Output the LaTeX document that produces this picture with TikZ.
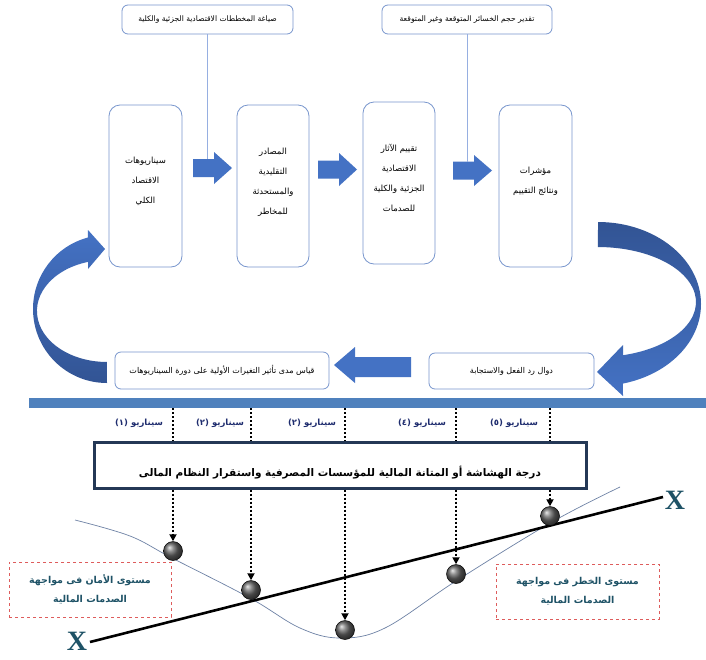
\documentclass[tikz,border=0pt]{standalone}
\usepackage{fontspec}
\usetikzlibrary{arrows.meta}
\TeXXeTstate=1
\newfontfamily\arabicfont[Script=Arabic]{DejaVu Sans}
\newfontfamily\xfont{Liberation Serif}
\newcommand\artx[1]{\beginR#1\endR}
\definecolor{boxline}{RGB}{120,150,205}
\definecolor{topline}{RGB}{150,175,225}
\definecolor{arrblue}{RGB}{68,114,196}
\definecolor{darkarr}{RGB}{50,84,148}
\definecolor{barblue}{RGB}{79,129,189}
\definecolor{bigline}{RGB}{36,56,86}
\definecolor{scencol}{RGB}{30,44,110}
\definecolor{tealtx}{RGB}{30,82,102}
\definecolor{redash}{RGB}{222,92,92}
\definecolor{curvecol}{RGB}{110,130,165}
\tikzset{
  rbox/.style={draw=boxline, line width=0.8pt, rounded corners=11pt, inner sep=0pt},
  topbox/.style={draw=boxline, line width=0.8pt, rounded corners=6pt, inner sep=0pt,
     minimum height=29, font=\arabicfont\fontsize{7.6}{9}\selectfont},
  boxtxt/.style={align=center, inner sep=0pt, font=\arabicfont\fontsize{8.5}{20}\selectfont},
  rowtxt/.style={font=\arabicfont\fontsize{8}{9}\selectfont},
  blockfill/.style={fill=arrblue},
  feedline/.style={draw=topline, line width=0.8pt},
  scenlbl/.style={font=\arabicfont\bfseries\fontsize{8.5}{10}\selectfont, text=scencol, inner sep=0pt},
  dotln/.style={draw=black, line width=2pt, dash pattern=on 2pt off 2pt},
  dotarr/.style={dotln, -{Triangle[length=7pt,width=7pt]}},
  ballnode/.style={circle, minimum size=19, inner sep=0pt, draw=black, line width=0.5pt,
     shading=ball, ball color=black!60},
  dashbox/.style={draw=redash, dashed, line width=0.8pt, inner sep=0pt, align=center,
     text=tealtx, font=\arabicfont\bfseries\fontsize{9.5}{19}\selectfont},
  xlbl/.style={text=tealtx, font=\xfont\bfseries\fontsize{28}{28}\selectfont, inner sep=0pt}
}
\begin{document}
\begin{tikzpicture}[x=1pt,y=-1pt]
\useasboundingbox[fill=white] (0,0) rectangle (706,659);

% top boxes
\node[topbox, minimum width=171] (t1) at (207.5,19.5) {\artx{صياغة المخططات الاقتصادية الجزئية والكلية}};
\node[topbox, minimum width=170] (t2) at (467,19.5) {\artx{تقدير حجم الخسائر المتوقعة وغير المتوقعة}};

% main row boxes
\node[rbox, minimum width=73, minimum height=162] (bA) at (145.5,186) {};
\node[boxtxt] (tA) at (145.5,181) {\artx{سيناريوهات}\\\artx{الاقتصاد}\\\artx{الكلي}};
\node[rbox, minimum width=72, minimum height=162] (bB) at (273,186) {};
\node[boxtxt] (tB) at (273,182) {\artx{المصادر}\\\artx{التقليدية}\\\artx{والمستحدثة}\\\artx{للمخاطر}};
\node[rbox, minimum width=72, minimum height=162] (bC) at (399,183) {};
\node[boxtxt] (tC) at (399,178) {\artx{تقييم الآثار}\\\artx{الاقتصادية}\\\artx{الجزئية والكلية}\\\artx{للصدمات}};
\node[rbox, minimum width=73, minimum height=162] (bD) at (535.5,186) {};
\node[boxtxt] (tD) at (535.5,181) {\artx{مؤشرات}\\\artx{ونتائج التقييم}};

% block arrows
\fill[blockfill] (193,159) -- (214,159) -- (214,152) -- (232,168) -- (214,184) -- (214,177) -- (193,177) -- cycle;
\fill[blockfill] (318,160.5) -- (339,160.5) -- (339,153) -- (357,169.5) -- (339,186) -- (339,178.5) -- (318,178.5) -- cycle;
\fill[blockfill] (453,161.5) -- (474,161.5) -- (474,155) -- (492,170.5) -- (474,186) -- (474,179.5) -- (453,179.5) -- cycle;
\fill[blockfill] (411,357) -- (355,357) -- (355,347) -- (334,365) -- (355,383) -- (355,377) -- (411,377) -- cycle;

% feed lines from top boxes
\coordinate (f1) at (207,159);
\coordinate (f2) at (467,161.5);
\draw[feedline] (t1.south) -- (t1.south |- f1);
\draw[feedline] (t2.south) -- (t2.south |- f2);

% bottom row
\node[rbox, rounded corners=6pt, minimum width=214, minimum height=37, rowtxt] (bE) at (222,370.5) {\artx{قياس مدى تأثير التغيرات الأولية على دورة السيناريوهات}};
\node[rbox, rounded corners=6pt, minimum width=165, minimum height=36, rowtxt] (bF) at (511.5,371) {\artx{دوال رد الفعل والاستجابة}};

% curved arrows
\path[top color=arrblue, bottom color=darkarr]
  (107,383) arc[start angle=90, end angle=255, x radius=74, y radius=74]
  -- (88,230) -- (105,249) -- (88,269) -- (88,261.9)
  arc[start angle=254.3, end angle=90, x radius=70, y radius=51] -- cycle;
\path[top color=darkarr, bottom color=arrblue]
  (598,222) arc[start angle=-90, end angle=76, x radius=103, y radius=82]
  -- (623,396) -- (597,372) -- (623,345) -- (623,355.2)
  arc[start angle=75.2, end angle=-90, x radius=98, y radius=55] -- cycle;

% separator bar
\fill[barblue] (29,398) rectangle (706,408);

% scenario labels
\node[scenlbl] (s1) at (139,423) {\artx{سيناريو (١)}};
\node[scenlbl] (s2) at (220,423) {\artx{سيناريو (٢)}};
\node[scenlbl] (s3) at (312,423) {\artx{سيناريو (٢)}};
\node[scenlbl] (s4) at (422,423) {\artx{سيناريو (٤)}};
\node[scenlbl] (s5) at (514,423) {\artx{سيناريو (٥)}};

% big box
\node[draw=bigline, line width=3pt, minimum width=492, minimum height=46, inner sep=0pt] (big) at (340,465) {};
\node[font=\arabicfont\bfseries\fontsize{10.5}{12}\selectfont, inner sep=0pt] (bigt) at (340,473) {\artx{درجة الهشاشة أو المتانة المالية للمؤسسات المصرفية واستقرار النظام المالى}};

% curve and line
\draw[curvecol, line width=0.7pt] plot[smooth, tension=0.6] coordinates {(75,520) (130,536) (172,558) (250,598) (300,628) (340,638) (385,628) (456,581) (552,522) (620,487)};
\coordinate (xa) at (90,642);
\coordinate (xb) at (663,497);
\draw[black, line width=2.6pt] (xa) -- (xb);
\node[xlbl] (xl) at (77,641) {X};
\node[xlbl] (xr) at (675,500) {X};

% balls
\node[ballnode] (k1) at (173,551) {};
\node[ballnode] (k2) at (251,590) {};
\node[ballnode] (k3) at (345,630) {};
\node[ballnode] (k4) at (456,574) {};
\node[ballnode] (k5) at (550,516) {};

% dotted lines
\coordinate (barb) at (0,408);
\foreach \k in {1,...,5}{
  \draw[dotln] (barb -| k\k) -- (big.north -| k\k);
  \draw[dotarr] (big.south -| k\k) -- (k\k.north);
}

% dashed boxes
\node[dashbox, minimum width=162, minimum height=55] (lz) at (90,589.5) {\artx{مستوى الأمان فى مواجهة}\\\artx{الصدمات المالية}};
\node[dashbox, minimum width=163, minimum height=55] (rz) at (577.5,591.5) {\artx{مستوى الخطر فى مواجهة}\\\artx{الصدمات المالية}};
\end{tikzpicture}
\end{document}
